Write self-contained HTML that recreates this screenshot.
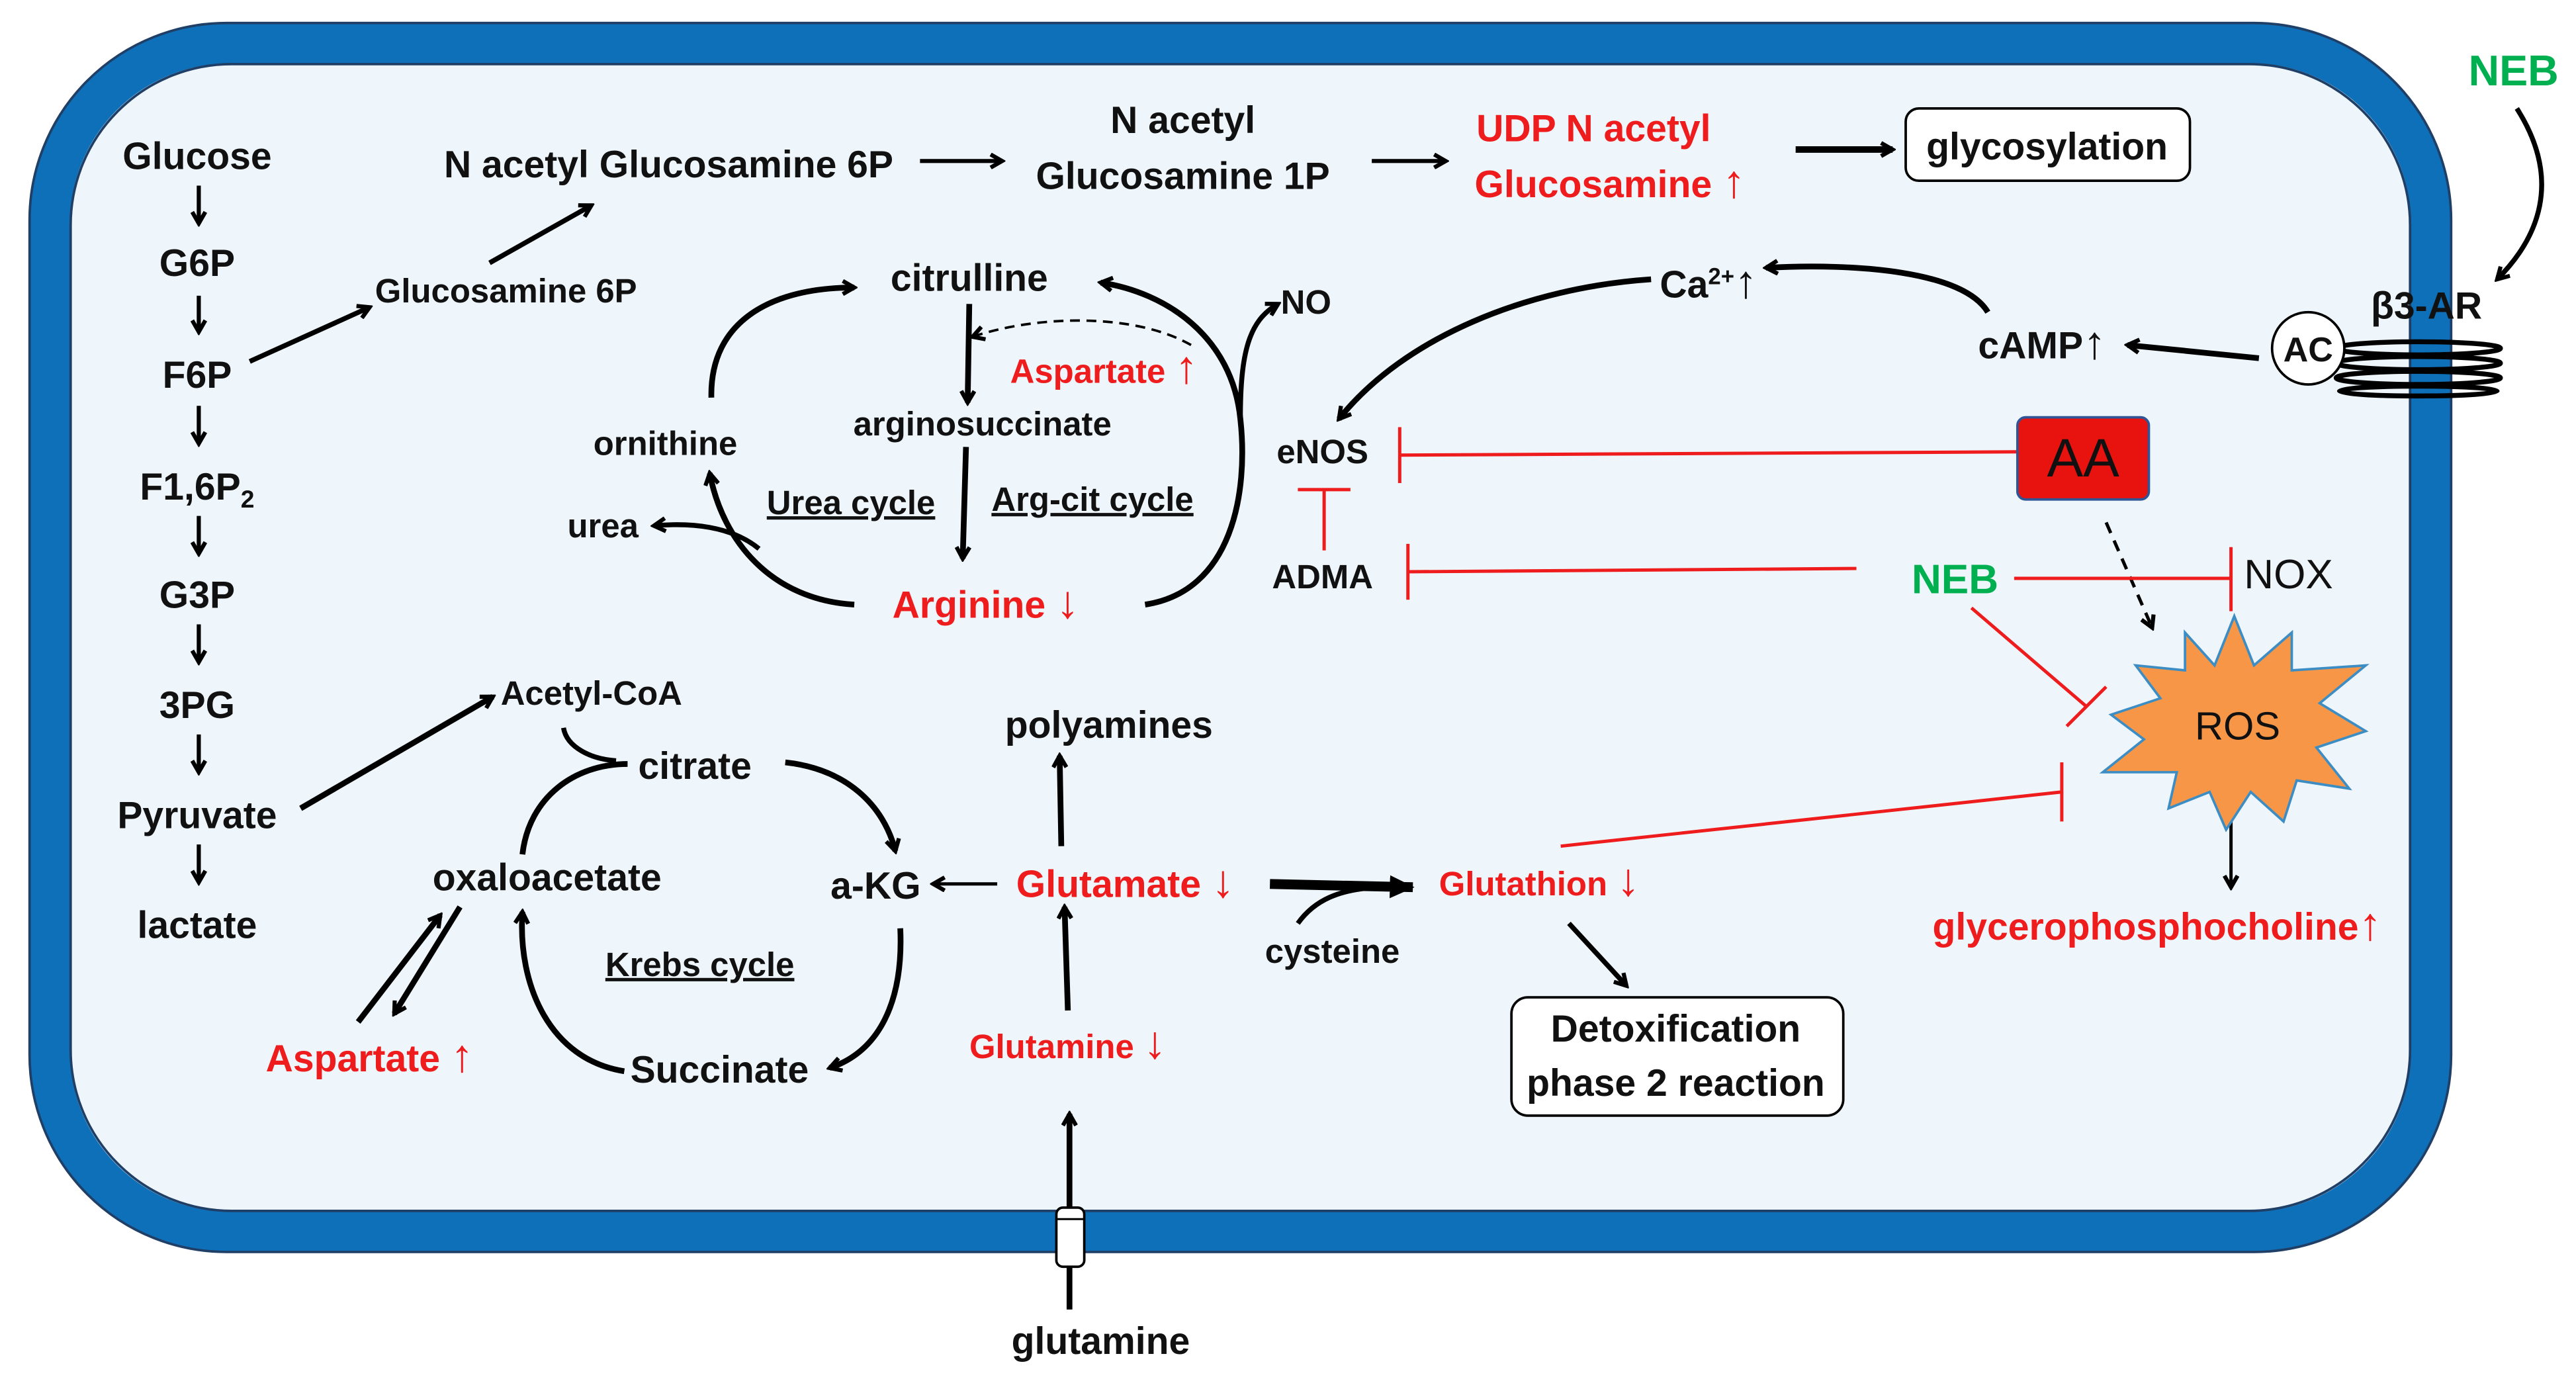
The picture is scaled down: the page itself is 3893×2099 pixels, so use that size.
<!DOCTYPE html>
<html><head><meta charset="utf-8"><style>
html,body{margin:0;padding:0;background:#fff;}
svg{display:block;}
text{font-family:"Liberation Sans",sans-serif;font-weight:bold;font-size:23px;text-anchor:middle;fill:#111;}
.r{fill:#ee1c1c;}
.g{fill:#00b050;}
.s{font-size:20.5px;}
.n{font-weight:normal;}
.ar{font-size:28px;font-weight:normal;}
</style></head><body>
<svg width="3893" height="2099" viewBox="0 0 1568 845.4" preserveAspectRatio="none" xmlns="http://www.w3.org/2000/svg">
<defs>
<marker id="a" markerWidth="10" markerHeight="10" refX="8" refY="5" orient="auto" markerUnits="userSpaceOnUse"><path d="M1,1 L8,5 L1,9" fill="none" stroke="#000" stroke-width="2.5"/></marker>
<marker id="af" markerWidth="16" markerHeight="14" refX="14" refY="7" orient="auto" markerUnits="userSpaceOnUse"><path d="M0,0 L15,7 L0,14 z" fill="#000"/></marker>
</defs>
<rect x="30" y="26" width="1450" height="724" rx="110" fill="#eef5fb" stroke="#0f70ba" stroke-width="25"/>
<rect x="18" y="14" width="1474" height="748" rx="120" fill="none" stroke="#1f3f66" stroke-width="1.5"/>
<rect x="43" y="39" width="1424" height="698" rx="98" fill="none" stroke="#1f3f66" stroke-width="1.5"/>

<g stroke="#000" stroke-width="2.5" fill="none">
<path d="M121,113 V136" marker-end="url(#a)"/><path d="M121,180 V202" marker-end="url(#a)"/>
<path d="M121,247 V270" marker-end="url(#a)"/><path d="M121,314 V337" marker-end="url(#a)"/>
<path d="M121,380 V403" marker-end="url(#a)"/><path d="M121,447 V470" marker-end="url(#a)"/>
<path d="M121,514 V537" marker-end="url(#a)"/>
<path d="M152,220 L225,187" stroke-width="3" marker-end="url(#a)"/>
<path d="M298,160 L360,125" stroke-width="3" marker-end="url(#a)"/>
<path d="M560,98 L610,98" marker-end="url(#a)"/>
<path d="M835,98 L880,98" marker-end="url(#a)"/>
<path d="M1093,91 L1152,91" stroke-width="4" marker-end="url(#a)"/>
<path d="M1532,66 C1560,110 1545,145 1520,170" stroke-width="3" marker-end="url(#a)"/>
<path d="M1375,218 L1295,210" stroke-width="3.5" marker-end="url(#a)"/>
<path d="M1210,190 C1195,165 1130,160 1075,163" stroke-width="3.5" marker-end="url(#a)"/>
<path d="M1005,170 C930,175 855,205 815,255" stroke-width="3.5" marker-end="url(#a)"/>
<path d="M590,185 L589,245" stroke-width="3.5" marker-end="url(#a)"/>
<path d="M588,272 L586,340" stroke-width="3.5" marker-end="url(#a)"/>
<path d="M725,210 C690,190 630,192 592,205" stroke-dasharray="6,4" stroke-width="1.5" marker-end="url(#a)"/>
<path d="M433,242 C432,195 470,175 520,175" stroke-width="3.5" marker-end="url(#a)"/>
<path d="M520,368 C470,365 440,330 432,288" stroke-width="3.5" marker-end="url(#a)"/>
<path d="M462,334 C445,320 420,318 398,320" stroke-width="3" marker-end="url(#a)"/>
<path d="M697,368 C750,360 760,300 755,255 C750,205 710,178 670,172" stroke-width="3.5" marker-end="url(#a)"/>
<path d="M755,255 C755,215 760,195 778,185" stroke-width="3" marker-end="url(#a)"/>
<path d="M183,492 L300,424" stroke-width="3.5" marker-end="url(#a)"/>
<path d="M478,464 C515,468 538,490 545,518" stroke-width="3.5" marker-end="url(#a)"/>
<path d="M548,565 C550,610 535,640 505,650" stroke-width="3.5" marker-end="url(#a)"/>
<path d="M380,652 C335,645 315,600 318,555" stroke-width="3.5" marker-end="url(#a)"/>
<path d="M318,520 C322,485 350,465 382,465" stroke-width="3.5"/>
<path d="M343,443 C345,455 360,462 375,463" stroke-width="3"/>
<path d="M218,622 L268,557" stroke-width="3.5" marker-end="url(#a)"/>
<path d="M280,552 L240,617" stroke-width="3.5" marker-end="url(#a)"/>
<path d="M607,538 L568,538" stroke-width="2" marker-end="url(#a)"/>
<path d="M646,515 L645,460" stroke-width="3.5" marker-end="url(#a)"/>
<path d="M650,615 L648,552" stroke-width="3.5" marker-end="url(#a)"/>
<path d="M651,797 L651,678" stroke-width="3.5" marker-end="url(#a)"/>
<path d="M773,538 L860,540" stroke-width="6" marker-end="url(#af)"/>
<path d="M790,562 C800,548 815,541 840,540" stroke-width="3"/>
<path d="M955,562 L990,600" stroke-width="3" marker-end="url(#a)"/>
<path d="M1358,500 L1358,540" stroke-width="2" marker-end="url(#a)"/>
<path d="M1282,318 L1310,382" stroke-width="2" stroke-dasharray="7,5" marker-end="url(#a)"/>
</g>
<rect x="643" y="735" width="17" height="36" rx="4" fill="#fff" stroke="#000" stroke-width="1.5"/>
<line x1="643" y1="742" x2="660" y2="742" stroke="#000" stroke-width="1.2"/>
<g fill="none" stroke="#000" stroke-width="3">
<ellipse cx="1472" cy="212" rx="50" ry="4"/><ellipse cx="1472" cy="221" rx="50" ry="4"/>
<ellipse cx="1472" cy="230" rx="50" ry="4"/><ellipse cx="1472" cy="238" rx="48" ry="3"/>
</g>
<circle cx="1405" cy="212" r="22" fill="#fff" stroke="#000" stroke-width="1.5"/>
<g stroke="#ee1c1c" stroke-width="2" fill="none">
<path d="M1228,275 L852,277 M852,260 V294"/>
<path d="M806,335 V298 M790,298 H822"/>
<path d="M1130,346 L857,348 M857,331 V365"/>
<path d="M1226,352 L1358,352 M1358,333 V372"/>
<path d="M1200,370 L1270,430 M1258,442 L1282,418"/>
<path d="M950,515 L1255,482 M1255,464 V500"/>
</g>
<rect x="1228" y="254" width="80" height="50" rx="5" fill="#e8120f" stroke="#2f5597" stroke-width="1.5"/>
<polygon points="1360,375 1372,405 1395,385 1395,408 1440,405 1412,428 1440,445 1410,455 1430,480 1398,475 1390,500 1370,482 1355,505 1345,482 1320,492 1325,470 1280,470 1305,450 1285,435 1315,425 1300,405 1330,408 1330,385 1348,405" fill="#f79646" stroke="#3c8dc4" stroke-width="1.5"/>
<rect x="1160" y="66" width="173" height="44" rx="8" fill="#fff" stroke="#000" stroke-width="1.5"/>
<rect x="920" y="607" width="202" height="72" rx="10" fill="#fff" stroke="#000" stroke-width="1.5"/>

<text x="120" y="103">Glucose</text><text x="120" y="168">G6P</text><text x="120" y="236">F6P</text>
<text x="120" y="304">F1,6P<tspan font-size="15" dy="5">2</tspan></text>
<text x="120" y="370">G3P</text><text x="120" y="437">3PG</text><text x="120" y="504">Pyruvate</text><text x="120" y="571">lactate</text>
<text x="308" y="184" class="s">Glucosamine 6P</text>
<text x="407" y="108">N acetyl Glucosamine 6P</text>
<text x="720" y="81">N acetyl</text><text x="720" y="115">Glucosamine 1P</text>
<text x="970" y="86" class="r">UDP N acetyl</text><text x="980" y="120" class="r">Glucosamine <tspan class="ar">↑</tspan></text>
<text x="1246" y="97">glycosylation</text>
<text x="1530" y="52" class="g" style="font-size:26px">NEB</text>
<text x="1477" y="194">β3-AR</text>
<text x="1405" y="220" style="font-size:21px">AC</text>
<text x="1243" y="218">cAMP<tspan class="ar">↑</tspan></text>
<text x="1040" y="181">Ca<tspan font-size="14" dy="-8">2+</tspan><tspan dy="8" class="ar">↑</tspan></text>
<text x="590" y="177">citrulline</text><text x="598" y="265" class="s">arginosuccinate</text>
<text x="405" y="277" class="s">ornithine</text><text x="367" y="327" class="s">urea</text>
<text x="518" y="313" class="s" text-decoration="underline">Urea cycle</text>
<text x="665" y="311" class="s" text-decoration="underline">Arg-cit cycle</text>
<text x="600" y="376" class="r">Arginine <tspan class="ar">↓</tspan></text>
<text x="672" y="233" class="r s">Aspartate <tspan class="ar">↑</tspan></text>
<text x="795" y="191" class="s">NO</text>
<text x="805" y="282" class="s">eNOS</text><text x="805" y="358" class="s">ADMA</text>
<text x="1268" y="290" class="n" style="font-size:33px">AA</text>
<text x="1190" y="361" class="g" style="font-size:25px">NEB</text>
<text x="1393" y="358" class="n" style="font-size:25px">NOX</text>
<text x="1362" y="450" class="n" style="font-size:24px">ROS</text>
<text x="1313" y="572" class="r">glycerophosphocholine<tspan class="ar">↑</tspan></text>
<text x="360" y="429" class="s">Acetyl-CoA</text><text x="423" y="474">citrate</text>
<text x="333" y="542">oxaloacetate</text><text x="533" y="547">a-KG</text>
<text x="438" y="659">Succinate</text>
<text x="426" y="594" class="s" text-decoration="underline">Krebs cycle</text>
<text x="225" y="652" class="r">Aspartate <tspan class="ar">↑</tspan></text>
<text x="685" y="546" class="r">Glutamate <tspan class="ar">↓</tspan></text>
<text x="675" y="449">polyamines</text>
<text x="650" y="644" class="r s">Glutamine <tspan class="ar">↓</tspan></text>
<text x="670" y="824">glutamine</text>
<text x="811" y="586" class="s">cysteine</text>
<text x="937" y="545" class="r s">Glutathion <tspan class="ar">↓</tspan></text>
<text x="1020" y="634">Detoxification</text><text x="1020" y="667">phase 2 reaction</text>
</svg>
</body></html>
